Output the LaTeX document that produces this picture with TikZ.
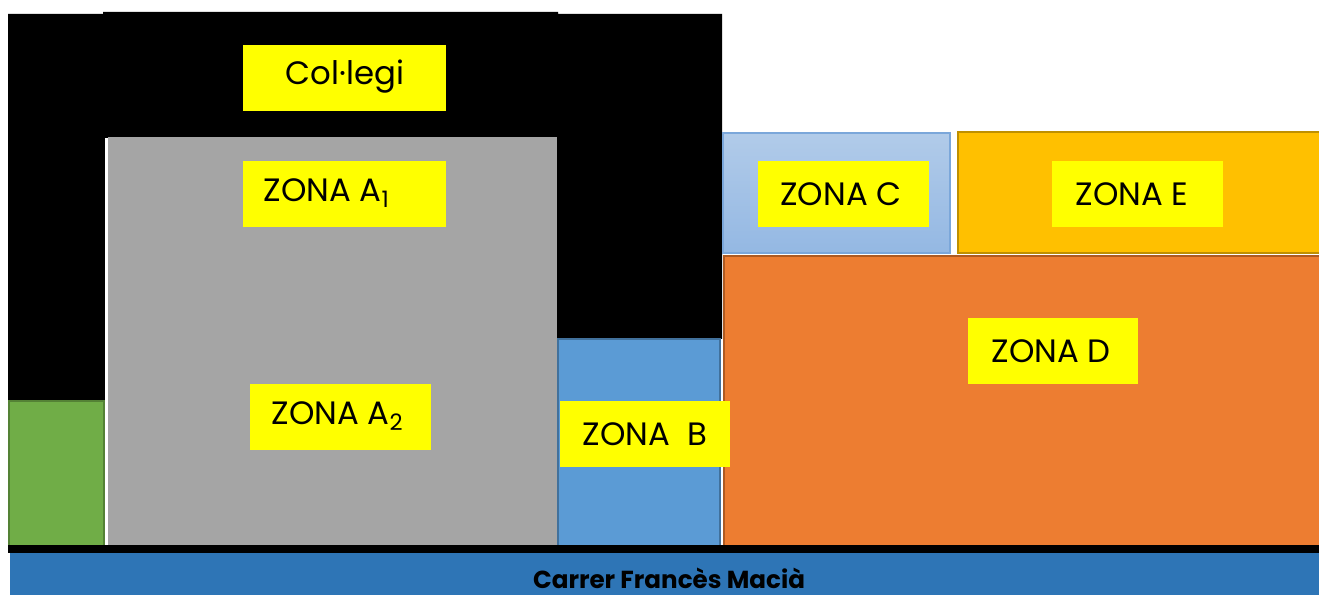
\documentclass[tikz,border=0pt]{standalone}
\usepackage{fontspec}
\setmainfont{Poppins}
\definecolor{ybox}{HTML}{FFFF00}
\definecolor{greyA}{HTML}{A5A5A5}
\definecolor{greenF}{HTML}{70AD47}
\definecolor{greenL}{HTML}{548235}
\definecolor{blueB}{HTML}{5B9BD5}
\definecolor{blueBL}{HTML}{41719C}
\definecolor{blueCt}{HTML}{B1CBE9}
\definecolor{blueCb}{HTML}{94B8E3}
\definecolor{blueCL}{HTML}{7BA7DA}
\definecolor{orangeE}{HTML}{FFC000}
\definecolor{orangeEL}{HTML}{BF9000}
\definecolor{orangeD}{HTML}{ED7D31}
\definecolor{orangeDL}{HTML}{AE5A21}
\definecolor{street}{HTML}{2E75B6}
\tikzset{
  lbox/.style={fill=ybox, draw=none, inner sep=0pt, minimum height=0.66cm},
  ltxt/.style={font=\fontsize{9.2}{11}\selectfont, text=black, inner sep=0pt},
  zone/.style={line width=0.5pt},
}
\begin{document}
\begin{tikzpicture}[x=0.01cm,y=-0.01cm]
\useasboundingbox (0,0) rectangle (1319,595);
% black building (Col·legi)
\fill[black] (8,14) -- (103,14) -- (103,12) -- (558,12) -- (558,14) -- (722,14) -- (722,546) -- (8,546) -- cycle;
% grey zone A
\fill[greyA] (108,137) rectangle (557,546);
\draw[white, line width=0.7pt] (106.5,138) -- (106.5,546);
% green zone
\filldraw[fill=greenF, draw=greenL, zone] (9,401) rectangle (104,546);
% zone B
\filldraw[fill=blueB, draw=blueBL, zone] (558,339) rectangle (720,546);
\draw[white, line width=0.5pt] (722,339) -- (722,546);
% zone C
\shade[top color=blueCt, bottom color=blueCb] (723,133) rectangle (950,253);
\draw[blueCL, zone] (723,133) rectangle (950,253);
% zone E
\filldraw[fill=orangeE, draw=orangeEL, zone] (958,132) rectangle (1321,253);
% zone D
\filldraw[fill=orangeD, draw=orangeDL, zone] (724,256) rectangle (1321,546);
% street
\fill[black] (8,545) rectangle (1319,553);
\fill[street] (10,553) rectangle (1319,595);
\node[font=\fontsize{7}{8}\selectfont\bfseries, inner sep=0pt] (street) at (669,578) {Carrer Francès Macià};
% labels
\node[lbox, minimum width=2.03cm] (bcol) at (344.5,78) {};
\node[ltxt] (tcol) at (345,77) {Col·legi};
\node[lbox, minimum width=2.03cm] (ba1) at (344.5,194) {};
\node[ltxt, anchor=west] (ta1) at (263,193) {ZONA A\textsubscript{1}};
\node[lbox, minimum width=1.81cm] (ba2) at (340.5,417) {};
\node[ltxt] (ta2) at (338,416) {ZONA A\textsubscript{2}};
\node[lbox, minimum width=1.70cm] (bb) at (645,434) {};
\node[ltxt] (tb) at (645,434) {ZONA\ \ B};
\node[lbox, minimum width=1.71cm] (bc) at (843.5,194) {};
\node[ltxt] (tc) at (841,194) {ZONA C};
\node[lbox, minimum width=1.71cm] (be) at (1137.5,194) {};
\node[ltxt] (te) at (1132,194) {ZONA E};
\node[lbox, minimum width=1.70cm] (bd) at (1053,351) {};
\node[ltxt] (td) at (1051,351) {ZONA D};
\end{tikzpicture}
\end{document}
